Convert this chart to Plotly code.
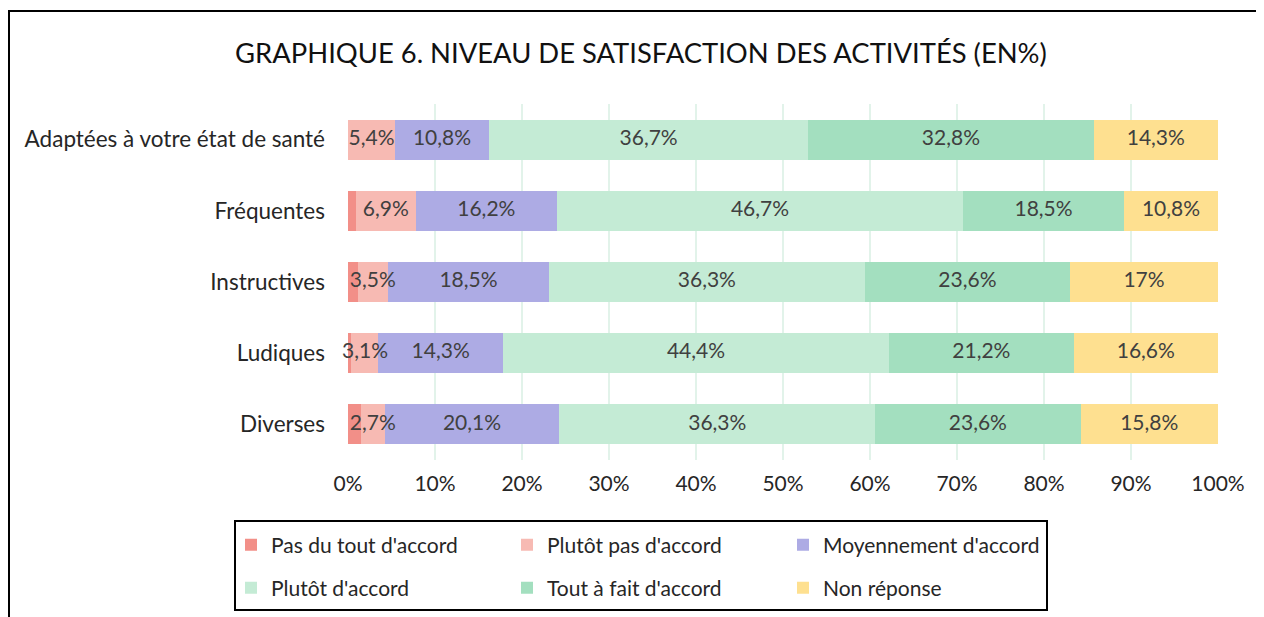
import plotly.graph_objects as go

categories = ["Adaptées à votre état de santé", "Fréquentes", "Instructives", "Ludiques", "Diverses"]
series_names = ["Pas du tout d'accord", "Plutôt pas d'accord", "Moyennement d'accord",
                "Plutôt d'accord", "Tout à fait d'accord", "Non réponse"]
pas_du_tout = [0.0, 0.9, 1.1, 0.4, 1.5]
plutot_pas = [5.4, 6.9, 3.5, 3.1, 2.7]
moyennement = [10.8, 16.2, 18.5, 14.3, 20.1]
plutot = [36.7, 46.7, 36.3, 44.4, 36.3]
tout_a_fait = [32.8, 18.5, 23.6, 21.2, 23.6]
non_reponse = [14.3, 10.8, 17.0, 16.6, 15.8]
tick_vals = [0, 10, 20, 30, 40, 50, 60, 70, 80, 90, 100]
tick_text = ["0%", "10%", "20%", "30%", "40%", "50%", "60%", "70%", "80%", "90%", "100%"]

colors = ["#F28F88", "#F7BAB3", "#ADABE4", "#C4EBD5", "#A3DFBF", "#FEE090"]
all_series = [pas_du_tout, plutot_pas, moyennement, plutot, tout_a_fait, non_reponse]
show_labels = [False, True, True, True, True, True]
legend_ids = ["legend", "legend", "legend", "legend2", "legend2", "legend2"]


def fmt(v):
    s = ("%.1f" % v).rstrip("0").rstrip(".")
    return s.replace(".", ",") + "%"


FS = 21
fig = go.Figure()
for name, vals, col, lg in zip(series_names, all_series, colors, legend_ids):
    fig.add_trace(go.Bar(
        y=categories, x=vals, name=name, orientation="h",
        marker=dict(color=col, line=dict(width=0)),
        hoverinfo="x+name", legend=lg,
    ))

# data labels drawn on top of all bars (centred on each segment)
lab_x, lab_y, lab_t = [], [], []
cum = [0.0] * len(categories)
for vals, show in zip(all_series, show_labels):
    for i, v in enumerate(vals):
        if show:
            lab_x.append(cum[i] + v / 2)
            lab_y.append(categories[i])
            lab_t.append(fmt(v))
        cum[i] += v
fig.add_trace(go.Scatter(x=lab_x, y=lab_y, text=lab_t, mode="text", textposition="middle center",
                         textfont=dict(color="#404040", size=FS), showlegend=False,
                         hoverinfo="skip", cliponaxis=False))

W, H = 1264, 617
OFF = 8  # page body margin
L, R, T, B = 348 - OFF, W - (1218 - OFF), 104 - OFF, H - (460 - OFF)
pw, ph = W - L - R, H - T - B


def px(x):
    return (x - OFF - L) / pw


def py(y):
    return (H - B - (y - OFF)) / ph


leg_common = dict(orientation="h", xanchor="left", yanchor="middle",
                  traceorder="normal", borderwidth=0, bgcolor="rgba(0,0,0,0)",
                  entrywidth=231, entrywidthmode="pixels",
                  font=dict(size=FS, color="#262626"), itemsizing="constant")

fig.update_layout(
    width=W, height=H,
    barmode="stack", bargap=0.437,
    margin=dict(l=L, r=R, t=T, b=B),
    paper_bgcolor="white", plot_bgcolor="white",
    font=dict(family="Lato, Open Sans, sans-serif", color="#262626", size=FS),
    title=dict(text="GRAPHIQUE 6. NIVEAU DE SATISFACTION DES ACTIVITÉS (EN%)",
               x=(641 - OFF) / W, xanchor="center", y=1 - (53 - OFF) / H, yanchor="middle",
               font=dict(size=27.4, color="#111111")),
    xaxis=dict(range=[0, 100], tickvals=tick_vals, ticktext=tick_text,
               showgrid=True, gridcolor="#E2F3EA", gridwidth=1.5, zeroline=False,
               showline=False, ticks="", ticklabelstandoff=9,
               tickfont=dict(size=FS, color="#262626"), fixedrange=True),
    yaxis=dict(autorange="reversed", showgrid=False, zeroline=False, showline=False,
               ticks="", ticklabelstandoff=22,
               tickfont=dict(size=22.5, color="#262626")),
    legend=dict(x=px(231), y=py(545), **leg_common),
    legend2=dict(x=px(231), y=py(588), **leg_common),
    shapes=[
        dict(type="path", xref="paper", yref="paper",
             path="M %f %f L %f %f L %f %f" % (px(9), py(H + 20), px(9), py(11), px(W + 20), py(11)),
             line=dict(color="black", width=2)),
        dict(type="rect", xref="paper", yref="paper",
             x0=px(235), y0=py(521), x1=px(1047), y1=py(610),
             line=dict(color="black", width=2), fillcolor="rgba(0,0,0,0)"),
    ],
)

fig.write_html("out.html")
